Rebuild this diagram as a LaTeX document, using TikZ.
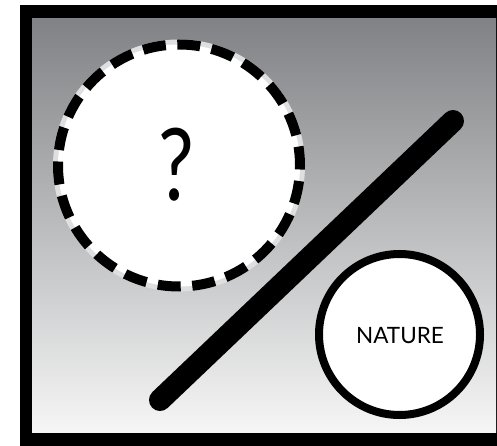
\documentclass[tikz,border=0pt]{standalone}
\usepackage{fontspec}
\setmainfont{Lato}
\definecolor{gtop}{RGB}{128,130,133}
\definecolor{gbot}{RGB}{246,246,246}
\definecolor{gapcol}{RGB}{222,223,224}
\begin{document}
\begin{tikzpicture}[x=1pt,y=-1pt,
  dashring/.style={circle, inner sep=0pt, minimum size=242pt, fill=white,
    draw=black, line width=10pt, dash pattern=on 23pt off 11.56pt, dash phase=4pt,
    preaction={draw=gapcol, solid, line width=10pt}},
  naturering/.style={circle, inner sep=0pt, minimum size=161pt, fill=white,
    draw=black, line width=8pt},
  bar/.style={line width=22pt, line cap=round, draw=black}]
\useasboundingbox (0,0) rectangle (497,446);
% frame
\fill[black] (19.5,5) rectangle (520,470);
\shade[top color=gtop, bottom color=gbot] (32,19) rectangle (496,432.5);
% dashed circle
\node (q) [dashring] at (179,165.5) {};
\node (qm) [font=\fontsize{100}{100}\selectfont, inner sep=0pt, xscale=0.8] at (176.5,165) {?};
% bar
\coordinate (b1) at (160,400);
\coordinate (b2) at (453,121);
\draw[bar] (b1) -- (b2);
% nature circle
\node (n) [naturering] at (399.5,334.5) {};
\node (nt) [font=\fontsize{22.5}{22.5}\selectfont, inner sep=0pt] at (400,335.5) {NATURE};
\end{tikzpicture}
\end{document}
